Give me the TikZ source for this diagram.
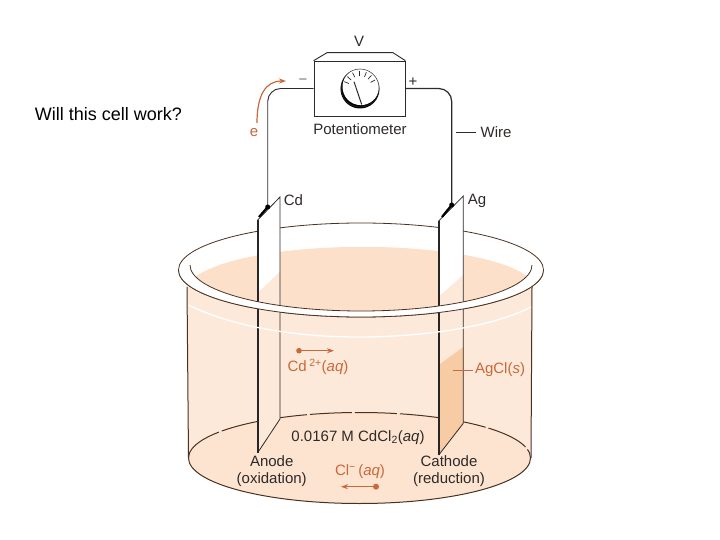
\documentclass[tikz,border=0pt]{standalone}
\usepackage{fontspec}
\setmainfont{Liberation Sans}
\usetikzlibrary{arrows.meta}
\definecolor{peach}{HTML}{FDE9D9}
\definecolor{liquid}{HTML}{FCE0CA}
\definecolor{floorcol}{HTML}{FCE4D0}
\definecolor{agcl}{HTML}{F7CBA3}
\definecolor{rust}{HTML}{C9683A}
\definecolor{ink}{HTML}{2E2A28}
\definecolor{glass}{HTML}{4A3222}
\tikzset{
    lab/.style={font=\fontsize{15}{17}\selectfont, text=ink, inner sep=0pt, align=center},
    ionlab/.style={lab, text=rust},
    wire/.style={draw=ink, line width=#1, rounded corners=13pt},
    ionarrow/.style={draw=rust, line width=1pt, -{Stealth[length=7pt,width=5pt]}},
    ionlead/.style={draw=rust, line width=0.9pt},
    edgethick/.style={draw=black!85, line width=1.6pt},
    edgethin/.style={draw=glass, line width=0.8pt}
}
\begin{document}
\begin{tikzpicture}[x=1pt, y=-1pt, >=stealth]
    \useasboundingbox (0,0) rectangle (720,540);
    \fill[white] (0,0) rectangle (720,540);

    % Side text
    \node[lab, text=black, font=\fontsize{18}{20}\selectfont] (question) at (108.5,114) {Will this cell work?};

    % Beaker body
    \fill[peach] (187,285) -- (188.5,458) arc[start angle=180, end angle=360, x radius=171pt, y radius=45.5pt]
        -- (533,285) -- cycle;
    \fill[floorcol] (360,458) ellipse[x radius=171pt, y radius=45.5pt];
    \draw[edgethin, line width=1pt] (188.5,458) arc[start angle=180, end angle=360, x radius=171pt, y radius=45.5pt];
    \draw[edgethin, line width=1pt, dash pattern=on 42pt off 3pt] (188.5,458) arc[start angle=180, end angle=0, x radius=171pt, y radius=45.5pt];
    \draw[edgethin, line width=1pt] (187,287) -- (188.5,458);
    \draw[edgethin, line width=1pt] (532,287) -- (531,458);

    % Rim and liquid surface
    \fill[white] (361,270) ellipse[x radius=182.5pt, y radius=47pt];
    \draw[edgethin] (361,270) ellipse[x radius=182.5pt, y radius=47pt];
    \fill[liquid] (195,277) .. controls (250,237) and (472,237) .. (527,276)
        arc[start angle=346, end angle=194, x radius=171pt, y radius=46pt] -- cycle;

    % Cd plate
    \fill[white] (280,197) -- (257.7,220) -- (257.7,293) -- (280,272) -- cycle;
    \fill[peach] (257.7,293) -- (257.7,452.7) -- (280,419) -- (280,272) -- cycle;
    \draw[edgethick] (257.7,220) -- (257.7,452.7);
    \draw[edgethin, draw=ink] (257.7,220) -- (280,197) -- (280,419) -- (257.7,452.7);

    % Ag plate
    \fill[white] (463.3,196) -- (438.7,221) -- (438.7,297) -- (463.3,275) -- cycle;
    \fill[peach] (438.7,297) -- (438.7,365) -- (463.3,347) -- (463.3,275) -- cycle;
    \fill[agcl] (438.7,365) -- (438.7,455) -- (463.3,423.3) -- (463.3,347) -- cycle;
    \draw[edgethick] (438.7,221) -- (438.7,455);
    \draw[edgethin, draw=ink] (438.7,221) -- (463.3,196) -- (463.3,423.3) -- (438.7,455);

    % Front of the rim
    \fill[white] (178.5,270) arc[start angle=180, end angle=360, x radius=182.5pt, y radius=47pt]
        -- (532,265) arc[start angle=360, end angle=180, x radius=171pt, y radius=46pt] -- cycle;
    \draw[edgethin] (178.5,270) arc[start angle=180, end angle=360, x radius=182.5pt, y radius=47pt];
    \draw[edgethin] (190,265) arc[start angle=180, end angle=360, x radius=171pt, y radius=46pt];
    \draw[white, line width=1.3pt] (188.5,305) .. controls (235,328) and (300,337) .. (358,337)
        .. controls (420,337) and (490,328) .. (531,307);

    % Potentiometer
    \node[draw=ink, line width=0.7pt, fill=white, minimum width=91pt, minimum height=55pt, inner sep=0pt] (meter) at (359.5,88.5) {};
    \draw[ink, line width=0.9pt] (meter.north west) -- (327,52.7) -- (393,52.7) -- (meter.north east);
    \fill[black] (360,89) circle (19.5pt);
    \fill[white] (360.8,86.8) circle (18.3pt);
    \draw[ink, line width=0.5pt] (360,88) circle (19pt);
    \foreach \ang in {28,48,68,92,116,138,158}
        \draw[ink, line width=0.7pt, shift={(360,88)}] (\ang:12pt) -- (\ang:17pt);
    \draw[ink, line width=1pt] (354,81.7) -- (361.7,104.5);

    % Wires
    \coordinate (cdtip) at (267.7,207);
    \coordinate (agtip) at (451.7,205);
    \draw[wire=0.9pt] (meter.west) -- (267.7,88.5) -- (cdtip);
    \draw[wire=1.2pt] (meter.east) -- (451.7,88.5) -- (agtip);
    \draw[black, line width=2.2pt] (cdtip) -- (259,217);
    \fill[black] (cdtip) circle (2.5pt);
    \draw[black, line width=2.2pt] (agtip) -- (442,217);
    \fill[black] (agtip) circle (2.5pt);

    % Labels at the top
    \node[lab] (vlab) at (359,41) {V};
    \node[lab] (potlab) at (360,129) {Potentiometer};
    \node[lab, text=black!55] (minus) at (303,82) {−};
    \node[lab] (plus) at (413,82) {+};
    \node[lab] (wirelab) at (496,132) {Wire};
    \node[lab] (cdlab) at (293.5,200.5) {Cd};
    \node[lab] (aglab) at (477,201) {Ag};
    \coordinate (wirefoot) at (456,132);
    \draw[ink, line width=0.8pt] (wirefoot) -- ([xshift=-4pt]wirelab.west);

    % Electron flow
    \node[ionlab] (elab) at (254,133) {e};
    \coordinate (eend) at (286,81);
    \draw[ionarrow, line width=1.2pt] (257,123) .. controls (257,96) and (265,81) .. (eend);

    % Ions
    \node[ionlab] (cdion) at (318,367) {Cd\,\textsuperscript{2+}(\textit{aq})};
    \coordinate (cdstart) at (299,350.7);
    \coordinate (cdend) at (334,350.7);
    \fill[rust] (cdstart) circle (2.8pt);
    \draw[ionarrow] (cdstart) -- (cdend);

    \node[ionlab] (clion) at (360,471.5) {Cl\textsuperscript{−}\,(\textit{aq})};
    \coordinate (clstart) at (376,486.7);
    \coordinate (clend) at (341,486.7);
    \fill[rust] (clstart) circle (3pt);
    \draw[ionarrow] (clstart) -- (clend);

    \node[ionlab] (agcllab) at (500,370) {AgCl(\textit{s})};
    \coordinate (agclfoot) at (453,370);
    \draw[ionlead] (agclfoot) -- ([xshift=-2pt]agcllab.west);

    % Labels in the beaker
    \node[lab] (conc) at (358,437.5) {0.0167 M CdCl\textsubscript{2}(\textit{aq})};
    \node[lab] (anode) at (271.7,471) {Anode\\(oxidation)};
    \node[lab] (cathode) at (449,471) {Cathode\\(reduction)};
\end{tikzpicture}
\end{document}
